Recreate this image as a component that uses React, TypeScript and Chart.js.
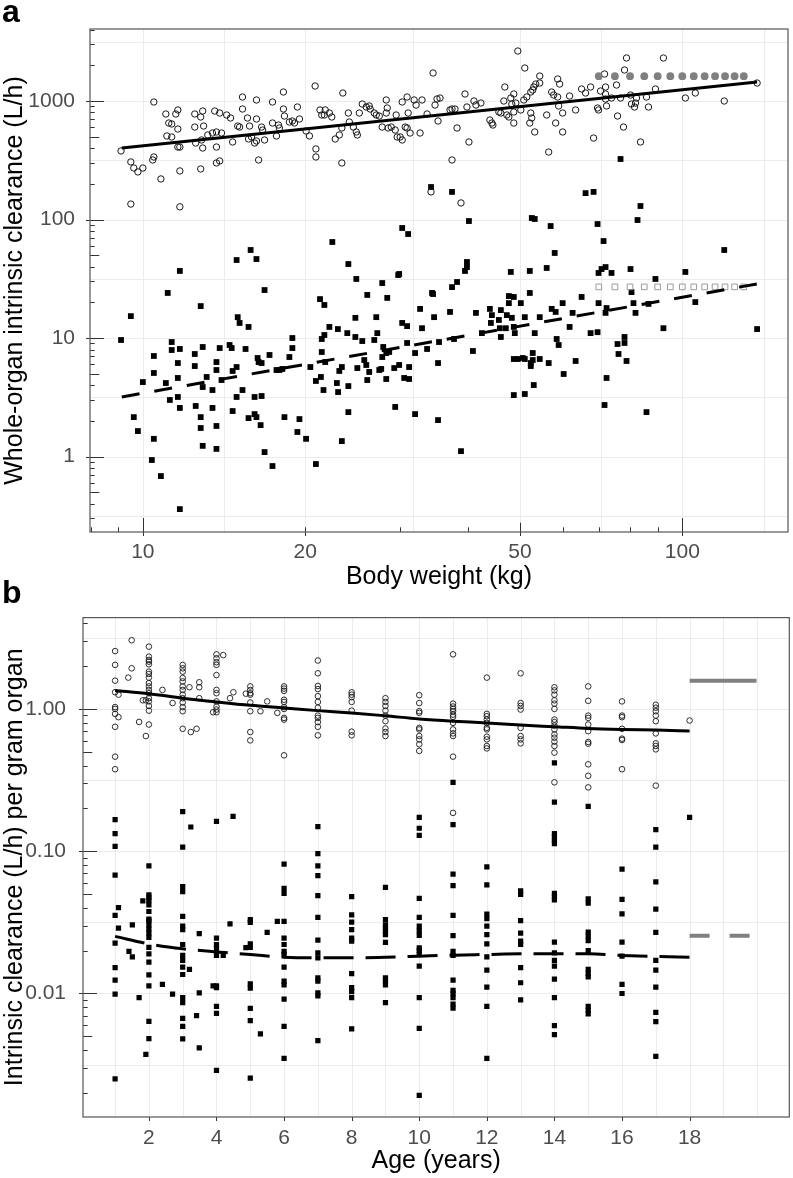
import React, { useEffect, useRef } from "react";
import { Chart, registerables } from "chart.js";

Chart.register(...registerables);

const FONT = "'Liberation Sans', Arial, Helvetica, sans-serif";

// ================= Panel a: whole-organ intrinsic clearance vs body weight =================
// open circles: [body weight (kg), clearance (L/h)]
const hepaticA: [number, number][] = [
  [9.11,379],[9.50,306],[9.62,272],[9.79,252],[10.0,272],[9.50,135],[10.48,981],[10.48,337],[10.43,318],[10.80,220],
  [11.03,777],[11.08,507],[11.31,497],[11.17,652],[11.31,640],[11.51,777],[11.61,840],[11.61,580],[11.61,409],[11.71,409],
  [11.71,257],[11.71,128],[12.48,777],[12.80,733],[12.48,603],[12.96,615],[12.53,442],[12.85,469],[12.80,267],[12.91,823],
  [12.91,401],[13.19,517],[13.46,537],[13.69,548],[13.59,823],[13.88,792],[13.69,409],[13.69,300],[13.88,312],[13.99,537],
  [14.30,762],[14.54,719],[14.67,451],[14.99,615],[15.11,603],[15.30,1081],[15.30,856],[15.63,719],[15.77,615],[15.70,478],
  [15.90,497],[16.24,1020],[16.24,705],[16.11,442],[16.24,460],[16.39,318],[16.60,603],[16.67,569],[16.81,469],[17.39,981],
  [17.39,652],[17.69,507],[17.84,627],[17.91,592],[18.22,1191],[18.22,856],[18.30,747],[18.69,665],[18.93,678],[19.10,652],
  [19.34,890],[19.51,705],[20.07,558],[20.36,507],[20.86,1338],[20.93,394],[20.93,337],[21.30,840],[21.46,762],[21.70,762],
  [21.78,840],[22.17,792],[22.40,733],[22.73,478],[23.13,517],[23.38,592],[23.48,1168],[23.38,300],[24.04,792],[24.14,665],
  [24.56,603],[24.87,548],[24.98,517],[25.19,792],[25.51,943],[25.95,890],[26.28,908],[26.39,856],[26.85,792],[27.08,762],
  [27.43,747],[28.26,1020],[28.38,873],[28.87,603],[29.48,762],[29.61,497],[27.77,603],[28.26,792],[28.50,592],[29.36,569],
  [29.99,497],[30.25,469],[30.25,981],[30.89,1081],[30.64,603],[30.89,592],[31.03,792],[31.29,537],[31.83,1020],[32.10,925],
  [32.92,1020],[32.65,537],[33.64,777],[34.51,1723],[34.80,925],[35.10,1040],[35.55,1060],[35.25,678],[34.21,171],[38.88,138],
  [37.10,840],[37.42,856],[37.90,856],[37.42,318],[38.23,592],[39.55,1146],[39.88,890],[40.22,451],[41.09,1000],[41.44,925],
  [42.33,962],[43.98,691],[44.36,652],[44.55,627],[45.70,808],[46.09,792],[46.68,1000],[46.88,1313],[47.28,762],[47.69,733],
  [48.71,808],[48.71,652],[48.09,1060],[48.71,1146],[49.13,962],[48.30,943],[50.19,840],[49.55,2642],[51.05,1899],[50.83,1020],
  [51.49,1081],[52.37,1191],[52.81,1238],[53.04,1313],[53.49,1391],[54.41,1418],[54.41,1624],[52.37,792],[52.59,719],[52.15,652],
  [53.26,548],[56.53,371],[56.05,762],[57.26,1191],[57.75,1124],[58.24,652],[58.74,1534],[59.24,1391],[58.74,1081],[58.99,908],
  [60.0,792],[60.0,548],[61.81,1102],[63.42,840],[65.06,1263],[66.17,1168],[67.60,1313],[68.47,487],[69.64,873],[69.94,840],
  [70.54,1214],[71.75,1690],[72.06,1313],[72.06,1146],[72.37,908],[72.06,1040],[73.92,1060],[75.52,1364],[75.84,747],[76.82,1060],
  [77.80,603],[78.14,1827],[78.81,2307],[80.50,943],[81.55,890],[81.89,962],[82.24,1060],[80.16,1124],[83.64,451],[85.82,1081],
  [86.55,890],[89.16,1263],[92.25,2307],[101.3,1060],[105.7,1168],[119.6,1000],[137.6,1418]
];
// filled squares: [body weight (kg), clearance (L/h)]
const renalA: [number, number][] = [
  [11.12,24.0],[11.71,36.8],[14.92,45.5],[15.84,55.3],[16.24,46.4],[16.81,25.4],[22.45,64.6],[24.04,42.1],[24.87,31.5],[26.06,23.1],
  [27.78,29.1],[28.38,21.8],[21.30,21.3],[29.74,34.0],[34.21,188],[37.42,171],[40.22,97.1],[30.25,84.8],[31.03,75.4],[52.6,103],
  [53.26,101],[57.0,88.1],[66.17,167],[68.47,171],[76.82,324],[83.64,130],[82.6,99],[69.64,91.6],[71.45,65.8],[58.0,52.2],
  [119.6,55.3],[56.05,39.0],[52.15,36.8],[48.09,36.1],[69.94,35.4],[70.84,38.2],[72.06,39.7],[73.92,35.4],[80.16,38.2],[89.16,31.5],
  [101.3,36.1],[39.88,43.8],[39.88,39.7],[39.55,36.8],[38.23,29.7],[37.42,26.9],[29.86,34.7],[34.51,23.5],[47.69,22.6],[48.71,22.2],
  [52.15,24.0],[65.06,22.2],[80.50,24.4],[9.11,9.62],[9.50,15.3],[12.80,18.6],[9.62,2.15],[9.79,1.64],[10.0,4.25],[10.48,7.05],
  [10.48,5.07],[10.48,1.41],[10.39,0.934],[10.80,0.684],[11.03,4.17],[11.22,3.00],[11.31,9.25],[11.31,7.92],[11.61,4.60],[11.61,6.15],
  [11.71,8.08],[11.61,3.18],[11.71,2.57],[11.71,0.360],[12.48,7.33],[12.48,5.80],[12.91,8.40],[12.53,2.67],[12.80,2.15],[12.80,1.74],
  [12.91,1.23],[13.13,4.69],[12.91,3.86],[13.46,3.64],[13.69,6.27],[13.69,5.37],[13.88,8.23],[13.46,2.57],[13.69,1.81],[13.69,1.16],
  [13.99,4.42],[14.48,8.73],[14.61,8.23],[14.67,5.27],[14.92,5.69],[14.99,15.0],[15.11,13.4],[14.92,3.18],[14.67,2.42],[15.30,3.64],
  [15.50,8.08],[15.70,12.4],[15.70,2.11],[16.11,2.28],[16.24,2.15],[16.32,6.78],[16.39,6.27],[16.60,6.15],[16.11,3.18],[16.60,3.24],
  [16.53,1.84],[16.81,1.09],[17.17,7.19],[17.39,0.831],[17.69,5.37],[17.91,5.37],[18.14,5.48],[18.30,2.15],[18.69,6.91],[18.93,10.0],
  [18.93,8.23],[19.34,1.61],[19.51,2.07],[20.07,1.41],[20.44,5.69],[20.93,4.34],[20.93,0.864],[21.70,19.0],[21.46,9.81],[21.70,10.6],
  [22.17,12.4],[21.46,7.62],[21.78,6.27],[21.38,4.69],[21.62,3.64],[22.99,11.9],[23.13,5.27],[23.38,5.69],[22.89,4.17],[23.01,3.50],
  [24.04,3.93],[24.04,2.37],[23.38,1.35],[23.93,11.0],[24.77,14.8],[24.77,10.2],[24.98,5.58],[25.51,9.43],[25.73,6.52],[25.95,5.92],
  [26.06,4.42],[26.28,5.17],[27.08,15.0],[27.20,11.0],[26.85,9.62],[27.43,5.37],[27.78,6.91],[28.26,4.51],[29.24,5.58],[29.36,2.62],
  [27.90,8.40],[28.26,7.47],[28.62,7.62],[27.66,5.48],[29.86,5.92],[30.25,13.4],[30.89,12.6],[30.89,9.08],[30.51,4.60],[31.16,4.51],
  [31.16,5.69],[31.96,7.47],[31.96,2.28],[32.65,17.6],[32.92,12.1],[33.64,8.08],[34.36,24.0],[34.66,15.0],[35.40,9.25],[35.25,6.15],
  [35.25,2.03],[37.10,16.6],[37.74,9.81],[38.88,1.11],[40.91,7.77],[41.44,16.3],[42.51,11.0],[43.98,17.6],[44.36,15.6],[44.17,13.4],
  [45.70,14.2],[45.89,12.1],[46.09,10.2],[46.09,17.2],[47.08,12.1],[47.28,15.6],[47.69,19.7],[48.30,14.8],[48.71,12.4],[48.92,11.0],
  [48.71,6.65],[49.55,6.65],[50.62,6.78],[51.05,6.65],[52.37,6.15],[52.37,5.80],[50.19,19.7],[51.05,15.0],[48.71,3.30],[51.05,3.37],
  [52.81,7.47],[52.81,6.52],[53.26,11.0],[53.04,4.01],[54.41,15.0],[54.41,6.65],[56.53,6.15],[57.26,17.6],[58.24,16.6],[58.49,9.81],
  [58.99,8.73],[60.0,19.7],[60.26,4.97],[61.81,12.4],[62.61,16.3],[63.42,6.40],[67.60,11.0],[69.64,11.2],[69.94,19.7],[72.37,17.9],
  [72.06,16.3],[72.37,4.60],[71.75,2.72],[75.84,8.90],[76.16,7.33],[78.14,10.2],[78.14,9.08],[78.81,6.40],[81.19,19.7],[81.89,16.3],
  [85.82,2.37],[86.55,19.4],[92.25,12.1],[105.7,20.1],[137.6,11.9]
];
const fitWeightA = [9.14, 137.6];
const fitHepaticA = [401, 1446];
const fitRenalA = [3.18, 28.6];
const adultWeightA = [70, 75, 80, 85, 90, 95, 100, 105, 110, 115, 120, 125, 130];
const adultHepaticA = 1620;
const adultRenalA = 27;
const xTicksA = [10, 20, 50, 100];
const yTicksA = [1, 10, 100, 1000];
const xMinorA = [Math.sqrt(10 * 20), Math.sqrt(20 * 50), Math.sqrt(50 * 100), Math.sqrt(100 * 200)];
const yMinorA = [0.1, 1, 10, 100, 1000].map((v) => v * Math.sqrt(10));

// ================= Panel b: intrinsic clearance per gram organ vs age =================
// open circles: [age (years), values]
const hepaticB: [number, number[]][] = [
  [1, [2.55, 2.04, 1.58, 1.31, 1.03, 1.0, 0.923, 0.749, 0.462, 0.377]],
  [1.1, [1.26, 0.875]], [1.39, [1.66]], [1.49, [3.04, 1.93]], [1.71, [0.81]], [1.82, [1.15]], [1.91, [1.15, 0.645]],
  [2, [2.74, 2.33, 2.21, 2.15, 2.06, 1.83, 1.76, 1.66, 1.52, 1.44, 1.36, 1.29, 1.19, 1.13, 1.05, 0.973, 0.777]],
  [2.4, [1.36]], [2.7, [1.10]],
  [3, [2.04, 1.93, 1.83, 1.65, 1.56, 1.44, 1.36, 1.26, 1.19, 1.11, 1.03, 0.964, 0.725]],
  [3.2, [1.42]], [3.24, [0.688]], [3.41, [0.725]], [3.49, [1.54, 1.42, 1.19]], [3.9, [0.948]],
  [4, [2.42, 2.27, 2.13, 2.04, 1.73, 1.36, 1.29, 1.13, 1.04, 0.99, 0.948]],
  [4.2, [2.39]], [4.4, [1.19]], [4.5, [1.31]], [4.87, [1.28]],
  [5, [1.44, 1.36, 1.29, 1.26, 1.11, 0.964, 0.688, 0.601]],
  [5.3, [0.964]], [5.5, [1.13]], [5.8, [0.938]],
  [6, [1.44, 1.39, 1.34, 1.16, 1.12, 1.03, 1.0, 0.865, 0.842, 0.472]],
  [7, [2.19, 1.78, 1.45, 1.38, 1.23, 1.12, 1.02, 0.898, 0.865, 0.808, 0.749, 0.652]],
  [8, [1.31, 1.26, 1.21, 1.12, 0.973, 0.692, 0.652]],
  [9, [1.19, 1.12, 1.05, 0.973, 0.898, 0.82, 0.729, 0.688, 0.645]],
  [10, [1.25, 1.10, 0.964, 0.938, 0.736, 0.718, 0.645, 0.611, 0.564, 0.507]],
  [11, [2.42, 1.09, 1.04, 1.0, 0.964, 0.912, 0.879, 0.798, 0.718, 0.673, 0.645, 0.462, 0.186]],
  [12, [1.66, 0.923, 0.889, 0.842, 0.798, 0.736, 0.718, 0.638, 0.611, 0.549, 0.528]],
  [13, [1.78, 1.10, 1.05, 0.99, 0.736, 0.645, 0.611, 0.573]],
  [14, [1.42, 1.35, 1.26, 1.15, 1.09, 1.0, 0.842, 0.808, 0.764, 0.718, 0.662, 0.628, 0.589, 0.549, 0.493, 0.305]],
  [15, [1.44, 1.14, 0.898, 0.865, 0.777, 0.698, 0.586, 0.570, 0.408, 0.339, 0.281]],
  [16, [1.13, 0.898, 0.875, 0.725, 0.618, 0.605, 0.377]],
  [17, [1.07, 1.02, 0.964, 0.898, 0.82, 0.673, 0.573, 0.549, 0.52, 0.289]],
  [18, [0.829]]
];
// filled squares: [age (years), values]
const renalB: [number, number[]][] = [
  [1, [0.167, 0.133, 0.108, 0.068, 0.0354, 0.0226, 0.0152, 0.0124, 0.00988, 0.00251]],
  [1.1, [0.0402, 0.0288]], [1.41, [0.0198]], [1.51, [0.0181, 0.0304]], [1.71, [0.00936]], [1.82, [0.0448]], [1.91, [0.00373]],
  [2, [0.0789, 0.0493, 0.0474, 0.0450, 0.0420, 0.0377, 0.0333, 0.0325, 0.0304, 0.0284, 0.0266, 0.0248, 0.0211, 0.0190, 0.0166, 0.0135, 0.0113, 0.00637, 0.00482]],
  [2.4, [0.0116]], [2.7, [0.00988]],
  [3, [0.190, 0.107, 0.0564, 0.052, 0.0348, 0.0297, 0.0281, 0.0221, 0.0185, 0.0171, 0.0153, 0.0136, 0.00936, 0.00864, 0.00668, 0.00588, 0.0048]],
  [3.2, [0.0148]], [3.24, [0.148]], [3.41, [0.00698]], [3.49, [0.0264, 0.0101, 0.00415]], [3.9, [0.0113]],
  [4, [0.162, 0.0245, 0.0221, 0.0207, 0.0185, 0.0113, 0.0110, 0.00811, 0.00725, 0.00288]],
  [4.2, [0.0185]], [4.4, [0.0308]], [4.49, [0.176]], [4.87, [0.021]],
  [5, [0.033, 0.0316, 0.0223, 0.0211, 0.0117, 0.0109, 0.00785, 0.00644, 0.00254]],
  [5.3, [0.0052]], [5.5, [0.0269]], [5.8, [0.0321]],
  [6, [0.0811, 0.0548, 0.0506, 0.0321, 0.0245, 0.0221, 0.0198, 0.0188, 0.0153, 0.0122, 0.0115, 0.00912, 0.00588, 0.0035]],
  [7, [0.149, 0.0962, 0.0789, 0.0673, 0.0488, 0.0343, 0.0237, 0.0193, 0.0178, 0.0129, 0.0122, 0.0101, 0.00962, 0.00467]],
  [8, [0.048, 0.0357, 0.0318, 0.0281, 0.0245, 0.0233, 0.0138, 0.011, 0.0103, 0.00936, 0.00564]],
  [9, [0.0557, 0.033, 0.0304, 0.0288, 0.0274, 0.0259, 0.0229, 0.0129, 0.0122, 0.0115, 0.00864]],
  [10, [0.173, 0.145, 0.129, 0.0467, 0.0343, 0.0297, 0.0277, 0.0256, 0.0209, 0.02, 0.0188, 0.0156, 0.00936, 0.00569, 0.00192]],
  [11, [0.305, 0.154, 0.069, 0.0573, 0.0354, 0.0255, 0.0198, 0.0185, 0.0124, 0.0105, 0.00998, 0.00936, 0.00841, 0.00789]],
  [12, [0.0777, 0.058, 0.0361, 0.0336, 0.0297, 0.0259, 0.0223, 0.0181, 0.0146, 0.0111, 0.00811, 0.0035]],
  [13, [0.0526, 0.0498, 0.0325, 0.0266, 0.0233, 0.0221, 0.0152, 0.0119, 0.00902]],
  [14, [0.418, 0.221, 0.133, 0.126, 0.119, 0.113, 0.0506, 0.048, 0.0455, 0.023, 0.0193, 0.0171, 0.0156, 0.0126, 0.00936, 0.00594, 0.00514]],
  [15, [0.207, 0.0462, 0.0431, 0.027, 0.0252, 0.0235, 0.02, 0.0148, 0.0138, 0.0131, 0.00811, 0.00764, 0.00718]],
  [16, [0.0748, 0.0459, 0.0363, 0.023, 0.0183, 0.0116, 0.01]],
  [17, [0.142, 0.107, 0.061, 0.0391, 0.0269, 0.0171, 0.0146, 0.0111, 0.00736, 0.00634, 0.00361]],
  [18, [0.173]]
];
const fitAgeB = [1, 2, 3, 4, 5, 6, 7, 8, 9, 10, 11, 12, 13, 14, 15, 16, 17, 18];
const fitHepaticB = [1.35, 1.28, 1.19, 1.12, 1.06, 1.016, 0.973, 0.938, 0.895, 0.85, 0.82, 0.798, 0.77, 0.75, 0.73, 0.718, 0.71, 0.70];
const fitRenalB = [0.0252, 0.0223, 0.0206, 0.0196, 0.0188, 0.018, 0.0178, 0.0178, 0.018, 0.0183, 0.0186, 0.0188, 0.019, 0.019, 0.019, 0.0185, 0.0182, 0.018];
const adultAgeB = [18, 19.98];
const adultHepaticB = 1.58;
const adultRenalB = 0.0255;
const xTicksB = [2, 4, 6, 8, 10, 12, 14, 16, 18];
const xGridB = [1, 2, 3, 4, 5, 6, 7, 8, 9, 10, 11, 12, 13, 14, 15, 16, 17, 18, 19, 20];
const yTicksB = [0.01, 0.1, 1];
const yMinorB = [0.001, 0.01, 0.1, 1].map((v) => v * Math.sqrt(10));

// ================= decoration plugin (grid, ggplot-like log ticks, frame) =================
type DecoCfg = {
  xGrid: number[];
  yGrid: number[];
  xMajor: number[];
  yMajor: number[];
  xLog: boolean;
  yLog: boolean;
};

function logTickList(min: number, max: number): [number, number][] {
  const out: [number, number][] = [];
  for (let e = Math.floor(Math.log10(min)); e <= Math.ceil(Math.log10(max)); e++) {
    for (let k = 1; k <= 9; k++) {
      const v = k * Math.pow(10, e);
      if (v >= min && v <= max) out.push([v, k === 1 ? 14 : k === 5 ? 9.3 : 4.7]);
    }
  }
  return out;
}

function makeDeco(cfg: DecoCfg) {
  return {
    id: "deco",
    beforeDatasetsDraw(chart: any) {
      const { ctx, chartArea } = chart;
      const { left, right, top, bottom } = chartArea;
      const xs = chart.scales.x;
      const ys = chart.scales.y;
      ctx.save();
      ctx.fillStyle = "#ffffff";
      ctx.fillRect(left, top, right - left, bottom - top);
      ctx.strokeStyle = "#ebebeb";
      ctx.lineWidth = 1;
      ctx.beginPath();
      for (const v of cfg.xGrid) {
        const p = Math.round(xs.getPixelForValue(v)) + 0.5;
        if (p < left || p > right) continue;
        ctx.moveTo(p, top);
        ctx.lineTo(p, bottom);
      }
      for (const v of cfg.yGrid) {
        const p = Math.round(ys.getPixelForValue(v)) + 0.5;
        if (p < top || p > bottom) continue;
        ctx.moveTo(left, p);
        ctx.lineTo(right, p);
      }
      ctx.stroke();
      ctx.restore();
    },
    afterDatasetsDraw(chart: any) {
      const { ctx, chartArea } = chart;
      const { left, right, top, bottom } = chartArea;
      const xs = chart.scales.x;
      const ys = chart.scales.y;
      ctx.save();
      ctx.strokeStyle = "#333333";
      ctx.lineWidth = 1;
      ctx.beginPath();
      if (cfg.yLog) {
        for (const [v, len] of logTickList(ys.min, ys.max)) {
          const p = Math.round(ys.getPixelForValue(v)) + 0.5;
          ctx.moveTo(left, p);
          ctx.lineTo(left + len, p);
        }
      }
      if (cfg.xLog) {
        for (const [v, len] of logTickList(xs.min, xs.max)) {
          const p = Math.round(xs.getPixelForValue(v)) + 0.5;
          ctx.moveTo(p, bottom);
          ctx.lineTo(p, bottom - len);
        }
      }
      for (const v of cfg.yMajor) {
        const p = Math.round(ys.getPixelForValue(v)) + 0.5;
        ctx.moveTo(left - 4, p);
        ctx.lineTo(left, p);
      }
      for (const v of cfg.xMajor) {
        const p = Math.round(xs.getPixelForValue(v)) + 0.5;
        ctx.moveTo(p, bottom);
        ctx.lineTo(p, bottom + 4);
      }
      ctx.stroke();
      ctx.strokeStyle = "#555555";
      ctx.lineWidth = 1.2;
      ctx.strokeRect(left, top, right - left, bottom - top);
      ctx.restore();
    },
  };
}

const tickFont = { family: FONT, size: 21 };
const titleFont = { family: FONT, size: 25 };

function pointSet(data: { x: number; y: number }[], style: "circle" | "rect", radius: number, fill: string, stroke: string, bw: number, order: number) {
  return {
    data,
    showLine: false,
    pointStyle: style,
    pointRadius: radius,
    pointHoverRadius: radius,
    pointBackgroundColor: fill,
    pointBorderColor: stroke,
    pointBorderWidth: bw,
    order,
  };
}

function lineSet(data: { x: number; y: number }[], color: string, width: number, dash: number[], order: number, smooth = false) {
  return {
    data,
    showLine: true,
    borderColor: color,
    borderWidth: width,
    borderDash: dash,
    borderCapStyle: "butt",
    pointRadius: 0,
    pointHoverRadius: 0,
    tension: smooth ? 0.4 : 0,
    cubicInterpolationMode: smooth ? "monotone" : "default",
    fill: false,
    order,
  };
}

function configA(): any {
  const ticksOnly = (vals: number[]) => (s: any) => {
    s.ticks = vals.map((v) => ({ value: v }));
  };
  return {
    type: "scatter",
    data: {
      datasets: [
        lineSet(fitWeightA.map((w, i) => ({ x: w, y: fitHepaticA[i] })), "#000000", 3, [], 0),
        lineSet(fitWeightA.map((w, i) => ({ x: w, y: fitRenalA[i] })), "#000000", 3, [18, 15], 0),
        pointSet(adultWeightA.map((w) => ({ x: w, y: adultHepaticA })), "circle", 3.9, "#808080", "#808080", 0, 1),
        pointSet(adultWeightA.map((w) => ({ x: w, y: adultRenalA })), "rect", 4, "rgba(255,255,255,0)", "#9a9a9a", 1, 1),
        pointSet(hepaticA.map(([x, y]) => ({ x, y })), "circle", 3.2, "rgba(255,255,255,0)", "#1a1a1a", 1, 2),
        pointSet(renalA.map(([x, y]) => ({ x, y })), "rect", 4.1, "#000000", "#000000", 0, 2),
      ],
    },
    options: {
      responsive: false,
      animation: false,
      devicePixelRatio: 1,
      events: [],
      layout: { padding: { top: 29, right: 3, left: 0, bottom: 0 } },
      plugins: { legend: { display: false }, tooltip: { enabled: false } },
      scales: {
        x: {
          type: "logarithmic",
          bounds: "data",
          min: 7.98,
          max: 157,
          afterBuildTicks: ticksOnly(xTicksA),
          afterFit: (s: any) => { s.height = 64; },
          grid: { display: false },
          border: { display: false },
          ticks: { font: tickFont, color: "#4d4d4d", padding: 0, autoSkip: false, maxRotation: 0, callback: (v: any) => String(v) },
          title: { display: true, text: "Body weight (kg)", font: titleFont, color: "#000000", padding: { top: 0, bottom: 4 } },
        },
        y: {
          type: "logarithmic",
          bounds: "data",
          min: 0.2307,
          max: 4052,
          afterBuildTicks: ticksOnly(yTicksA),
          afterFit: (s: any) => { s.width = 90; },
          grid: { display: false },
          border: { display: false },
          ticks: { font: tickFont, color: "#4d4d4d", padding: 7, autoSkip: false, callback: (v: any) => String(v) },
          title: { display: true, text: "Whole-organ intrinsic clearance (L/h)", font: titleFont, color: "#000000", padding: { top: 0, bottom: 0 } },
        },
      },
    },
    plugins: [
      makeDeco({
        xGrid: [...xTicksA, ...xMinorA],
        yGrid: [...yTicksA, ...yMinorA],
        xMajor: xTicksA,
        yMajor: yTicksA,
        xLog: true,
        yLog: true,
      }),
    ],
  };
}

function configB(): any {
  const ticksOnly = (vals: number[]) => (s: any) => {
    s.ticks = vals.map((v) => ({ value: v }));
  };
  const flat = (rows: [number, number[]][]) => rows.flatMap(([age, vals]) => vals.map((v) => ({ x: age, y: v })));
  return {
    type: "scatter",
    data: {
      datasets: [
        lineSet(fitAgeB.map((a, i) => ({ x: a, y: fitHepaticB[i] })), "#000000", 3, [], 0, true),
        lineSet(fitAgeB.map((a, i) => ({ x: a, y: fitRenalB[i] })), "#000000", 3, [30, 12], 0, true),
        lineSet(adultAgeB.map((a) => ({ x: a, y: adultHepaticB })), "#808080", 4, [], 0),
        lineSet(adultAgeB.map((a) => ({ x: a, y: adultRenalB })), "#808080", 4, [20, 20], 0),
        pointSet(flat(hepaticB), "circle", 2.8, "rgba(255,255,255,0)", "#1a1a1a", 0.9, 2),
        pointSet(flat(renalB), "rect", 3.7, "#000000", "#000000", 0, 2),
      ],
    },
    options: {
      responsive: false,
      animation: false,
      devicePixelRatio: 1,
      events: [],
      layout: { padding: { top: 18, right: 3, left: 0, bottom: 0 } },
      plugins: { legend: { display: false }, tooltip: { enabled: false } },
      scales: {
        x: {
          type: "linear",
          bounds: "data",
          min: 0.05,
          max: 20.95,
          afterBuildTicks: ticksOnly(xTicksB),
          afterFit: (s: any) => { s.height = 61; },
          grid: { display: false },
          border: { display: false },
          ticks: { font: tickFont, color: "#4d4d4d", padding: 1, autoSkip: false, maxRotation: 0, callback: (v: any) => String(v) },
          title: { display: true, text: "Age (years)", font: titleFont, color: "#000000", padding: { top: 0, bottom: 2 } },
        },
        y: {
          type: "logarithmic",
          bounds: "data",
          min: 0.001355,
          max: 4.385,
          afterBuildTicks: ticksOnly(yTicksB),
          afterFit: (s: any) => { s.width = 83; },
          grid: { display: false },
          border: { display: false },
          ticks: { font: tickFont, color: "#4d4d4d", padding: 9, autoSkip: false, callback: (v: any) => Number(v).toFixed(2) },
          title: { display: true, text: "Intrinsic clearance (L/h) per gram organ", font: titleFont, color: "#000000", padding: { top: 0, bottom: 0 } },
        },
      },
    },
    plugins: [
      makeDeco({
        xGrid: xGridB,
        yGrid: [...yTicksB, ...yMinorB],
        xMajor: xTicksB,
        yMajor: yTicksB,
        xLog: false,
        yLog: true,
      }),
    ],
  };
}

function Panel({ make, top, height }: { make: () => any; top: number; height: number }) {
  const ref = useRef<HTMLCanvasElement>(null);
  useEffect(() => {
    if (!ref.current) return;
    const chart = new Chart(ref.current, make());
    return () => chart.destroy();
  }, []);
  return (
    <canvas
      ref={ref}
      width={793}
      height={height}
      style={{ position: "absolute", left: 0, top, width: 793, height, display: "block" }}
    />
  );
}

const labelStyle: React.CSSProperties = {
  position: "absolute",
  left: 2,
  fontFamily: FONT,
  fontWeight: "bold",
  fontSize: 32,
  lineHeight: "32px",
  color: "#000",
};

export default function App() {
  return (
    <div style={{ position: "absolute", left: 0, top: 0, width: 793, height: 1178, background: "#fff", overflow: "hidden" }}>
      <Panel make={configA} top={0} height={596} />
      <Panel make={configB} top={596} height={582} />
      <div style={{ ...labelStyle, top: -5 }}>a</div>
      <div style={{ ...labelStyle, top: 576 }}>b</div>
    </div>
  );
}
